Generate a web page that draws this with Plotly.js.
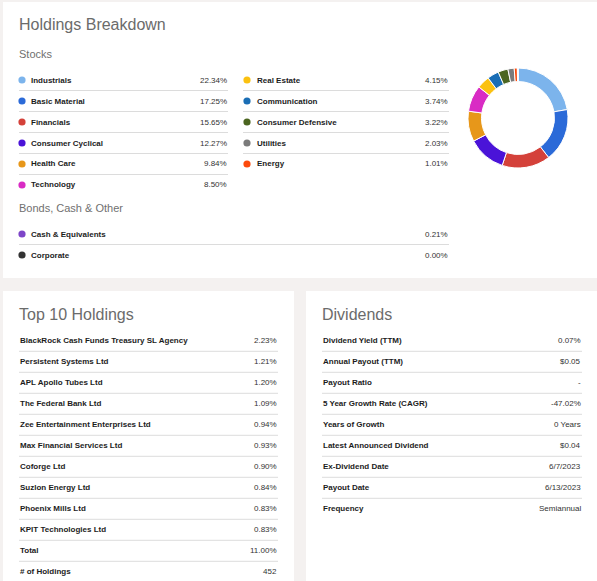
<!DOCTYPE html>
<html>
<head>
<meta charset="utf-8">
<script src="https://cdn.plot.ly/plotly-3.0.1.min.js"></script>
<style>
html,body{margin:0;padding:0;background:#f4f1f0;overflow:hidden;}
#chart{width:597px;height:581px;}
</style>
</head>
<body>
<div id="chart"></div>
<script>
// ---- data ----
var stockLabels = ["Industrials","Basic Material","Financials","Consumer Cyclical","Health Care","Technology","Real Estate","Communication","Consumer Defensive","Utilities","Energy"];
var stockValues = [22.34,17.25,15.65,12.27,9.84,8.50,4.15,3.74,3.22,2.03,1.01];
var stockColors = ["#7cb4ec","#2b6ad8","#d4413a","#4a13d8","#e7971a","#d92bc4","#fbc110","#1a6eb5","#4b6520","#7b7b7b","#fc4a0c"];
var bondLabels = ["Cash & Equivalents","Corporate"];
var bondValues = [0.21,0.00];
var bondColors = ["#7d45c8","#333333"];
var holdingNames = ["BlackRock Cash Funds Treasury SL Agency","Persistent Systems Ltd","APL Apollo Tubes Ltd","The Federal Bank Ltd","Zee Entertainment Enterprises Ltd","Max Financial Services Ltd","Coforge Ltd","Suzlon Energy Ltd","Phoenix Mills Ltd","KPIT Technologies Ltd"];
var holdingWeights = [2.23,1.21,1.20,1.09,0.94,0.93,0.90,0.84,0.83,0.83];
var holdingTotal = 11.00;
var holdingCount = 452;
var dividendLabels = ["Dividend Yield (TTM)","Annual Payout (TTM)","Payout Ratio","5 Year Growth Rate (CAGR)","Years of Growth","Latest Announced Dividend","Ex-Dividend Date","Payout Date","Frequency"];
var dividendValues = ["0.07%","$0.05","-","-47.02%","0 Years","$0.04","6/7/2023","6/13/2023","Semiannual"];

// ---- helpers (pixel -> paper) ----
var W = 597, H = 581;
function X(px){ return px / W; }
function Y(py){ return 1 - py / H; }
var FONT = "Liberation Sans, Arial, sans-serif";
var shapes = [], annotations = [];

function rect(x0,y0,x1,y1,color){
  shapes.push({type:"rect",xref:"paper",yref:"paper",x0:X(x0),x1:X(x1),y0:Y(y1),y1:Y(y0),
    fillcolor:color,line:{width:0},layer:"below"});
}
function hline(x0,x1,y){
  shapes.push({type:"line",xref:"paper",yref:"paper",x0:X(x0),x1:X(x1),y0:Y(y),y1:Y(y),
    line:{color:"#dcdcdc",width:1},layer:"below"});
}
function dot(cx,cy,color){
  var r = 3.6;
  shapes.push({type:"circle",xref:"paper",yref:"paper",x0:X(cx-r),x1:X(cx+r),y0:Y(cy+r),y1:Y(cy-r),
    fillcolor:color,line:{width:0},layer:"below"});
}
function txt(x,y,text,anchor,size,color){
  annotations.push({xref:"paper",yref:"paper",x:X(x),y:Y(y),text:text,showarrow:false,
    xanchor:anchor,yanchor:"middle",borderpad:0,
    font:{family:FONT,size:size,color:color}});
}

// ---- panels ----
rect(3,2,597,278,"#ffffff");
rect(3,291,294,581,"#ffffff");
rect(306,291,597,581,"#ffffff");

// ---- holdings breakdown ----
txt(18,24,"Holdings Breakdown","left",16,"#6b6b6b");
txt(18,54,"Stocks","left",11,"#707070");
var rowH = 21;
for (var i=0;i<stockLabels.length;i++){
  var col = i<6 ? 0 : 1;
  var r = col===0 ? i : i-6;
  var y = 80 + r*rowH;
  var dx = col===0 ? 22 : 247;
  var lx = col===0 ? 30 : 256;
  var rx = col===0 ? 228 : 449;
  var lineStart = col===0 ? 19 : 243;
  dot(dx,y,stockColors[i]);
  txt(lx,y,"<b>"+stockLabels[i]+"</b>","left",8,"#1c1c1c");
  txt(rx,y,stockValues[i].toFixed(2)+"%","right",8,"#333333");
  var nInCol = col===0 ? 6 : 5;
  if (r < nInCol-1) hline(lineStart,rx,y+10.5);
}
txt(18,208,"Bonds, Cash & Other","left",11,"#707070");
for (var j=0;j<bondLabels.length;j++){
  var yb = 234 + j*rowH;
  dot(22,yb,bondColors[j]);
  txt(30,yb,"<b>"+bondLabels[j]+"</b>","left",8,"#1c1c1c");
  txt(449,yb,bondValues[j].toFixed(2)+"%","right",8,"#333333");
  if (j < bondLabels.length-1) hline(19,449,yb+10.5);
}

// ---- top 10 holdings ----
txt(18,314,"Top 10 Holdings","left",16,"#6b6b6b");
var hRows = holdingNames.map(function(n,k){ return [n, holdingWeights[k].toFixed(2)+"%"]; });
hRows.push(["Total", holdingTotal.toFixed(2)+"%"]);
hRows.push(["# of Holdings", String(holdingCount)]);
for (var k=0;k<hRows.length;k++){
  var yh = 340.5 + k*rowH;
  txt(19,yh,"<b>"+hRows[k][0]+"</b>","left",8,"#1c1c1c");
  txt(278,yh,hRows[k][1],"right",8,"#333333");
  if (k < hRows.length-1) hline(19,278,yh+10.8);
}

// ---- dividends ----
txt(321,314,"Dividends","left",16,"#6b6b6b");
for (var m=0;m<dividendLabels.length;m++){
  var yd = 340.5 + m*rowH;
  txt(322,yd,"<b>"+dividendLabels[m]+"</b>","left",8,"#1c1c1c");
  txt(582,yd,dividendValues[m],"right",8,"#333333");
  if (m < dividendLabels.length-1) hline(322,582,yd+10.8);
}

// ---- donut ----
var pie = {
  type:"pie",
  labels: stockLabels.concat(bondLabels),
  values: stockValues.concat(bondValues),
  marker:{colors: stockColors.concat(bondColors), line:{color:"#ffffff",width:1}},
  hole:0.73,
  sort:false,
  direction:"clockwise",
  rotation:0,
  textinfo:"none",
  hoverinfo:"label+percent",
  showlegend:false,
  domain:{x:[X(468),X(568)], y:[Y(168),Y(68)]}
};

var layout = {
  width:W, height:H,
  margin:{l:0,r:0,t:0,b:0},
  paper_bgcolor:"#f4f1f0",
  plot_bgcolor:"#f4f1f0",
  showlegend:false,
  shapes:shapes,
  annotations:annotations,
  font:{family:FONT}
};
Plotly.newPlot("chart",[pie],layout,{displayModeBar:false,staticPlot:true});
</script>
</body>
</html>
